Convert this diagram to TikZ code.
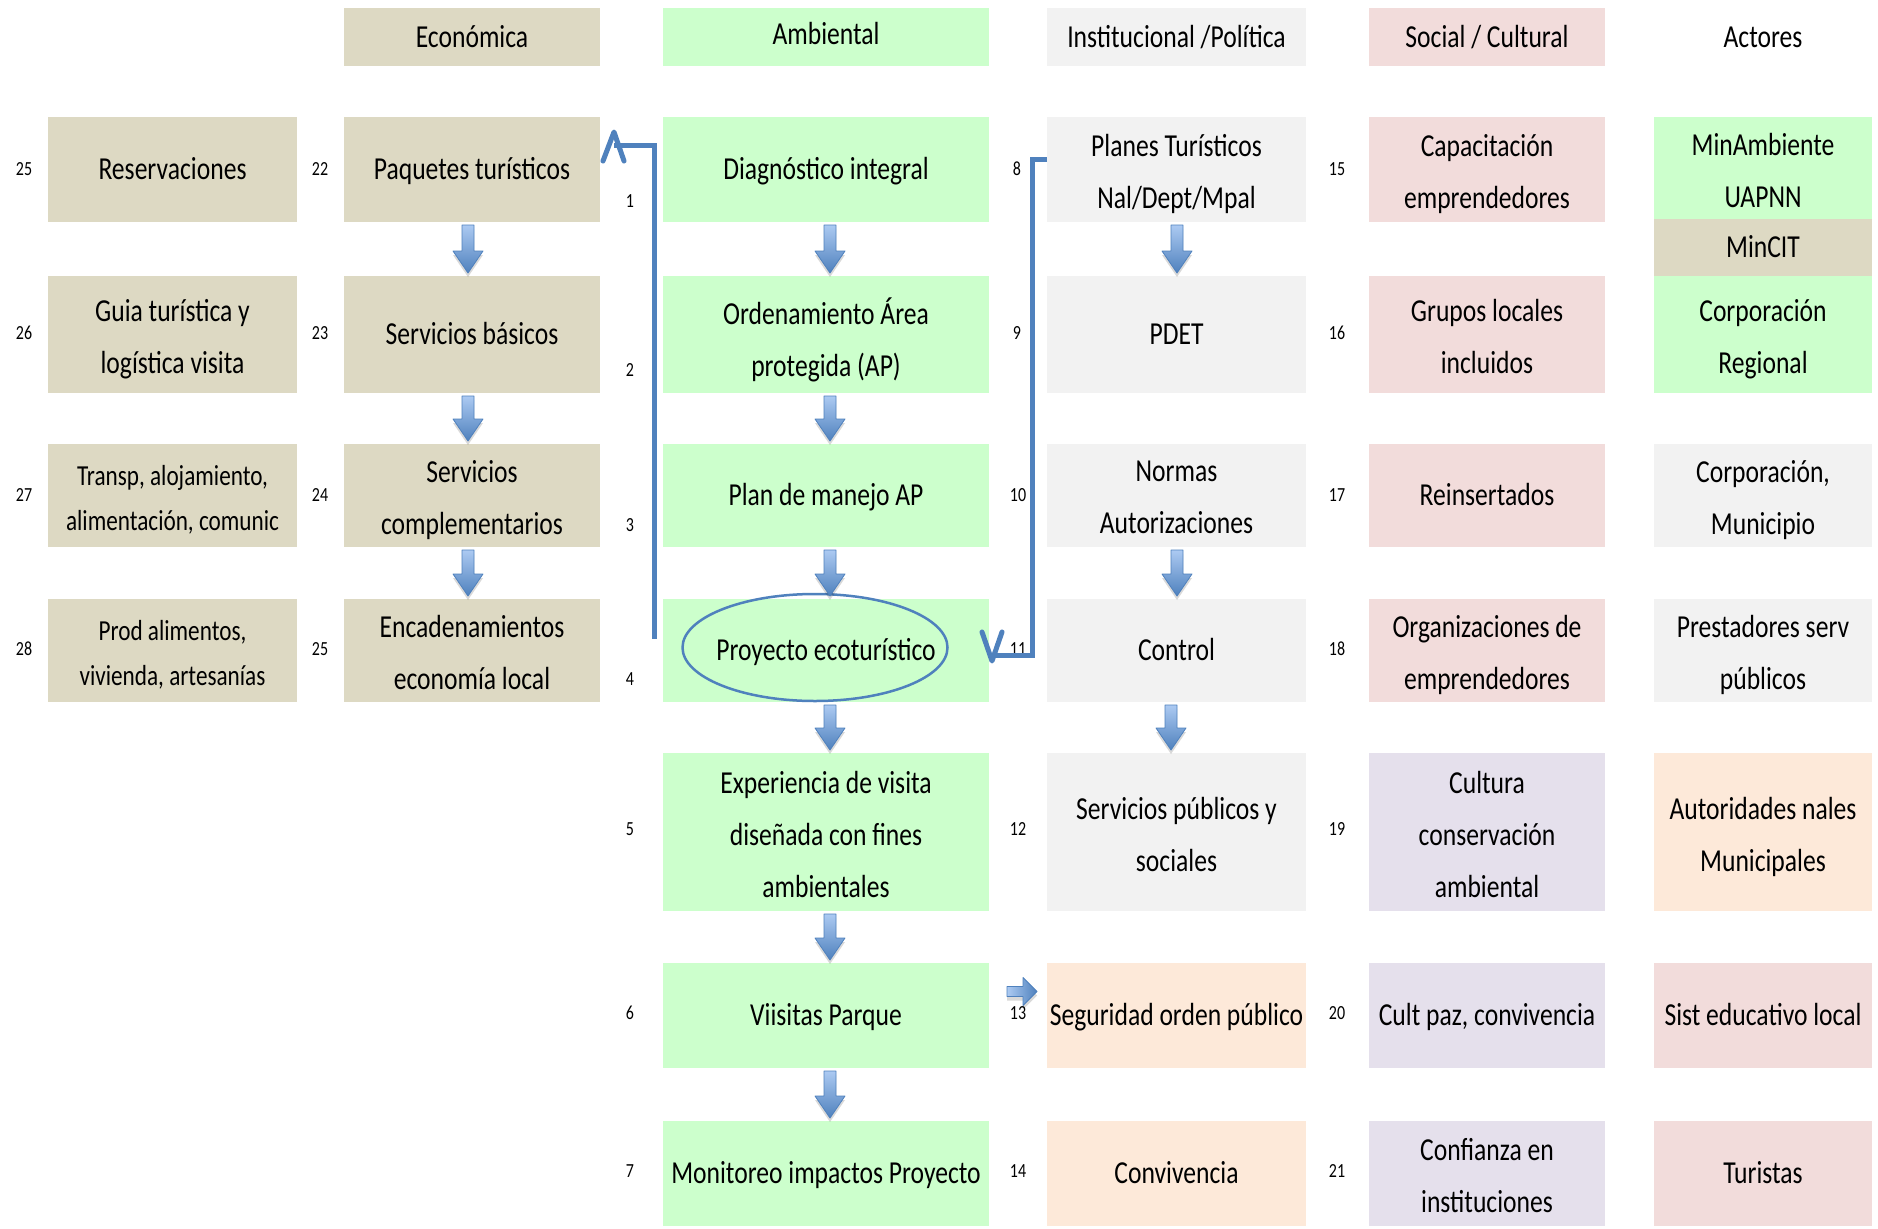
\documentclass[tikz,border=0pt]{standalone}
\usepackage{fontspec}
\setmainfont{Carlito}[FakeStretch=0.80]
\usetikzlibrary{calc,shapes.geometric}
\definecolor{tanc}{HTML}{DDD9C3}
\definecolor{greenc}{HTML}{CCFFCC}
\definecolor{greyc}{HTML}{F2F2F2}
\definecolor{pinkc}{HTML}{F2DCDB}
\definecolor{lavc}{HTML}{E5E0EC}
\definecolor{peachc}{HTML}{FDE9D9}
\definecolor{lineblue}{RGB}{79,129,189}
\definecolor{arrtop}{RGB}{172,202,242}
\definecolor{arrbot}{RGB}{79,129,189}
\tikzset{
  cellbg/.style={inner sep=0pt, outer sep=0pt},
  box/.style={inner sep=0pt, outer sep=0pt, align=center, font=\fontsize{32}{52}\selectfont,
    execute at begin node=\strut, execute at end node=\strut},
  ml/.style={yshift=-10pt},
  smallbox/.style={font=\fontsize{29}{45}\selectfont, yshift=-9pt},
  lbl/.style={inner sep=0pt, font=\fontsize{20}{24}\selectfont},
  conn/.style={draw=lineblue, line width=5pt, line join=miter},
  chev/.style={draw=lineblue, line width=5pt, line cap=round, line join=round},
  blk/.style={top color=arrtop, bottom color=arrbot, draw=arrbot, line width=0.8pt, line join=round},
  blkshadow/.style={fill=black, fill opacity=0.15}
}
% \cell[text opts]{name}{fill}{cx}{cy}{w}{h}{text}
\newcommand\cell[8][]{%
  \node[cellbg,fill=#3,minimum width=#6pt,minimum height=#7pt] (#2) at (#4,#5) {};
  \node[box,#1] (#2-t) at (#2.center) {#8};}
% down block arrow between two nodes, optional x shift
\newcommand\dnarrow[3][0]{%
  \path[blkshadow] let \p1=($(#2.south)+(#1pt,-4pt)$), \p2=($(#3.north)+(#1pt,-4pt)$) in
    (\x1-6pt,\y1-3pt) -- (\x1+6pt,\y1-3pt) -- (\x1+6pt,\y2+25pt) -- (\x1+15pt,\y2+25pt)
    -- (\x1,\y2+3pt) -- (\x1-15pt,\y2+25pt) -- (\x1-6pt,\y2+25pt) -- cycle;
  \path[blk] let \p1=($(#2.south)+(#1pt,0pt)$), \p2=($(#3.north)+(#1pt,0pt)$) in
    (\x1-6pt,\y1-3pt) -- (\x1+6pt,\y1-3pt) -- (\x1+6pt,\y2+25pt) -- (\x1+15pt,\y2+25pt)
    -- (\x1,\y2+3pt) -- (\x1-15pt,\y2+25pt) -- (\x1-6pt,\y2+25pt) -- cycle;
}
\begin{document}
\begin{tikzpicture}[x=1pt,y=-1pt]
\fill[white] (0,0) rectangle (1878,1228);
\useasboundingbox (0,0) rectangle (1878,1228);

% headers
\cell{hB}{tanc}{472}{37}{256}{58}{Económica}
\cell[yshift=3pt]{hC}{greenc}{826}{37}{326}{58}{Ambiental}
\cell{hD}{greyc}{1176.5}{37}{259}{58}{Institucional /Política}
\cell{hE}{pinkc}{1487}{37}{236}{58}{Social / Cultural}
\cell{hF}{white}{1763}{37}{218}{58}{Actores}

% column A
\cell{A1}{tanc}{172.5}{169.5}{249}{105}{Reservaciones}
\cell[ml]{A2}{tanc}{172.5}{334.5}{249}{117}{Guia turística y\\logística visita}
\cell[smallbox]{A3}{tanc}{172.5}{495.5}{249}{103}{Transp, alojamiento,\\alimentación, comunic}
\cell[smallbox]{A4}{tanc}{172.5}{650.5}{249}{103}{Prod alimentos,\\vivienda, artesanías}

% column B
\cell{B1}{tanc}{472}{169.5}{256}{105}{Paquetes turísticos}
\cell{B2}{tanc}{472}{334.5}{256}{117}{Servicios básicos}
\cell[ml]{B3}{tanc}{472}{495.5}{256}{103}{Servicios\\complementarios}
\cell[ml]{B4}{tanc}{472}{650.5}{256}{103}{Encadenamientos\\economía local}

% column C
\cell{C1}{greenc}{826}{169.5}{326}{105}{Diagnóstico integral}
\cell[ml]{C2}{greenc}{826}{334.5}{326}{117}{Ordenamiento Área\\protegida (AP)}
\cell{C3}{greenc}{826}{495.5}{326}{103}{Plan de manejo AP}
\cell{C4}{greenc}{826}{650.5}{326}{103}{}
\cell[ml]{C5}{greenc}{826}{832}{326}{158}{Experiencia de visita\\diseñada con fines\\ambientales}
\cell{C6}{greenc}{826}{1015.5}{326}{105}{Viisitas Parque}
\cell{C7}{greenc}{826}{1173.5}{326}{105}{Monitoreo impactos Proyecto}

% column D
\cell[ml]{D1}{greyc}{1176.5}{169.5}{259}{105}{Planes Turísticos\\Nal/Dept/Mpal}
\cell{D2}{greyc}{1176.5}{334.5}{259}{117}{PDET}
\cell[ml]{D3}{greyc}{1176.5}{495.5}{259}{103}{Normas\\Autorizaciones}
\cell{D4}{greyc}{1176.5}{650.5}{259}{103}{Control}
\cell[ml]{D5}{greyc}{1176.5}{832}{259}{158}{Servicios públicos y\\sociales}
\cell{D6}{peachc}{1176.5}{1015.5}{259}{105}{Seguridad orden público}
\cell{D7}{peachc}{1176.5}{1173.5}{259}{105}{Convivencia}

% column E
\cell[ml]{E1}{pinkc}{1487}{169.5}{236}{105}{Capacitación\\emprendedores}
\cell[ml]{E2}{pinkc}{1487}{334.5}{236}{117}{Grupos locales\\incluidos}
\cell{E3}{pinkc}{1487}{495.5}{236}{103}{Reinsertados}
\cell[ml]{E4}{pinkc}{1487}{650.5}{236}{103}{Organizaciones de\\emprendedores}
\cell[ml]{E5}{lavc}{1487}{832}{236}{158}{Cultura\\conservación\\ambiental}
\cell{E6}{lavc}{1487}{1015.5}{236}{105}{Cult paz, convivencia}
\cell[ml]{E7}{lavc}{1487}{1173.5}{236}{105}{Confianza en\\instituciones}

% column F (actors)
\cell[ml]{F1}{greenc}{1763}{168}{218}{102}{MinAmbiente\\UAPNN}
\cell{F1b}{tanc}{1763}{247.5}{218}{57}{MinCIT}
\cell[ml]{F2}{greenc}{1763}{334.5}{218}{117}{Corporación\\Regional}
\cell[ml]{F3}{greyc}{1763}{495.5}{218}{103}{Corporación,\\Municipio}
\cell[ml]{F4}{greyc}{1763}{650.5}{218}{103}{Prestadores serv\\públicos}
\cell[ml]{F5}{peachc}{1763}{832}{218}{158}{Autoridades nales\\Municipales}
\cell{F6}{pinkc}{1763}{1015.5}{218}{105}{Sist educativo local}
\cell{F7}{pinkc}{1763}{1173.5}{218}{105}{Turistas}

% number labels
\node[lbl] (nA1) at (24,169) {25};
\node[lbl] (nA2) at (24,333) {26};
\node[lbl] (nA3) at (24,495) {27};
\node[lbl] (nA4) at (24,649) {28};
\node[lbl] (nB1) at (320,169) {22};
\node[lbl] (nB2) at (320,333) {23};
\node[lbl] (nB3) at (320,495) {24};
\node[lbl] (nB4) at (320,649) {25};
\node[lbl] (nC1) at (630,201) {1};
\node[lbl] (nC2) at (630,370) {2};
\node[lbl] (nC3) at (630,525) {3};
\node[lbl] (nC4) at (630,679) {4};
\node[lbl] (nC5) at (630,829) {5};
\node[lbl] (nC6) at (630,1013) {6};
\node[lbl] (nC7) at (630,1171) {7};
\node[lbl] (nD1) at (1017,169) {8};
\node[lbl] (nD2) at (1017,333) {9};
\node[lbl] (nD3) at (1018,495) {10};
\node[lbl] (nD4) at (1018,649) {11};
\node[lbl] (nD5) at (1018,829) {12};
\node[lbl] (nD6) at (1018,1013) {13};
\node[lbl] (nD7) at (1018,1171) {14};
\node[lbl] (nE1) at (1337,169) {15};
\node[lbl] (nE2) at (1337,333) {16};
\node[lbl] (nE3) at (1337,495) {17};
\node[lbl] (nE4) at (1337,649) {18};
\node[lbl] (nE5) at (1337,829) {19};
\node[lbl] (nE6) at (1337,1013) {20};
\node[lbl] (nE7) at (1337,1171) {21};

% ellipse around Proyecto ecoturistico, and its text
\node[ellipse, draw=lineblue, line width=2.5pt, minimum width=265pt, minimum height=107pt, inner sep=0pt] (ell) at (815,647.5) {};
\node[box] (proy) at (C4.center) {Proyecto ecoturístico};

% elbow connector: Proyecto -> Paquetes turisticos
\coordinate (p1s) at ($(C4.west)+(-9pt,12pt)$);
\coordinate (p1e) at ($(B1.north east)+(14pt,-28pt)$);
\draw[conn] (p1s) -- (p1s |- p1e) -- (p1e);
\draw[chev] ($(p1e)+(-11pt,-16pt)$) -- ($(p1e)+(0pt,13pt)$) -- ($(p1e)+(10pt,-16pt)$);

% elbow connector: Planes Turisticos -> Proyecto
\coordinate (p2s) at ($(D1.west)+(0pt,10pt)$);
\coordinate (p2a) at ($(p2s)+(-15pt,0pt)$);
\coordinate (p2b) at ($(C4.east)+(4pt,-4.5pt)$);
\draw[conn] (p2s) -- (p2a) -- (p2a |- p2b) -- (p2b);
\draw[chev] ($(p2b)+(-11pt,23pt)$) -- ($(p2b)+(-1pt,-6pt)$) -- ($(p2b)+(9pt,23pt)$);

% block arrows (downward)
\dnarrow[-4]{B1}{B2}
\dnarrow[-4]{B2}{B3}
\dnarrow[-4]{B3}{B4}
\dnarrow[4]{C1}{C2}
\dnarrow[4]{C2}{C3}
\dnarrow[4]{C3}{C4}
\dnarrow[4]{C4}{C5}
\dnarrow[4]{C5}{C6}
\dnarrow[4]{C6}{C7}
\dnarrow[0.5]{D1}{D2}
\dnarrow[0.5]{D3}{D4}
\dnarrow[-5.5]{D4}{D5}

% right block arrow: Viisitas Parque -> Seguridad orden publico
\coordinate (r1) at ($(C6.east)+(18pt,24pt)$);
\path[blkshadow] ($(r1)+(0pt,-9pt)$) -- ++(16pt,0pt) -- ++(0pt,-9pt) -- ++(14pt,14pt) -- ++(-14pt,14pt) -- ++(0pt,-9pt) -- ++(-16pt,0pt) -- cycle;
\path[left color=arrtop, right color=arrbot, draw=arrbot, line width=0.8pt, line join=round]
  ($(r1)+(0pt,-5pt)$) -- ++(16pt,0pt) -- ++(0pt,-9pt) -- ++(14pt,14pt) -- ++(-14pt,14pt) -- ++(0pt,-9pt) -- ++(-16pt,0pt) -- cycle;
\end{tikzpicture}
\end{document}
